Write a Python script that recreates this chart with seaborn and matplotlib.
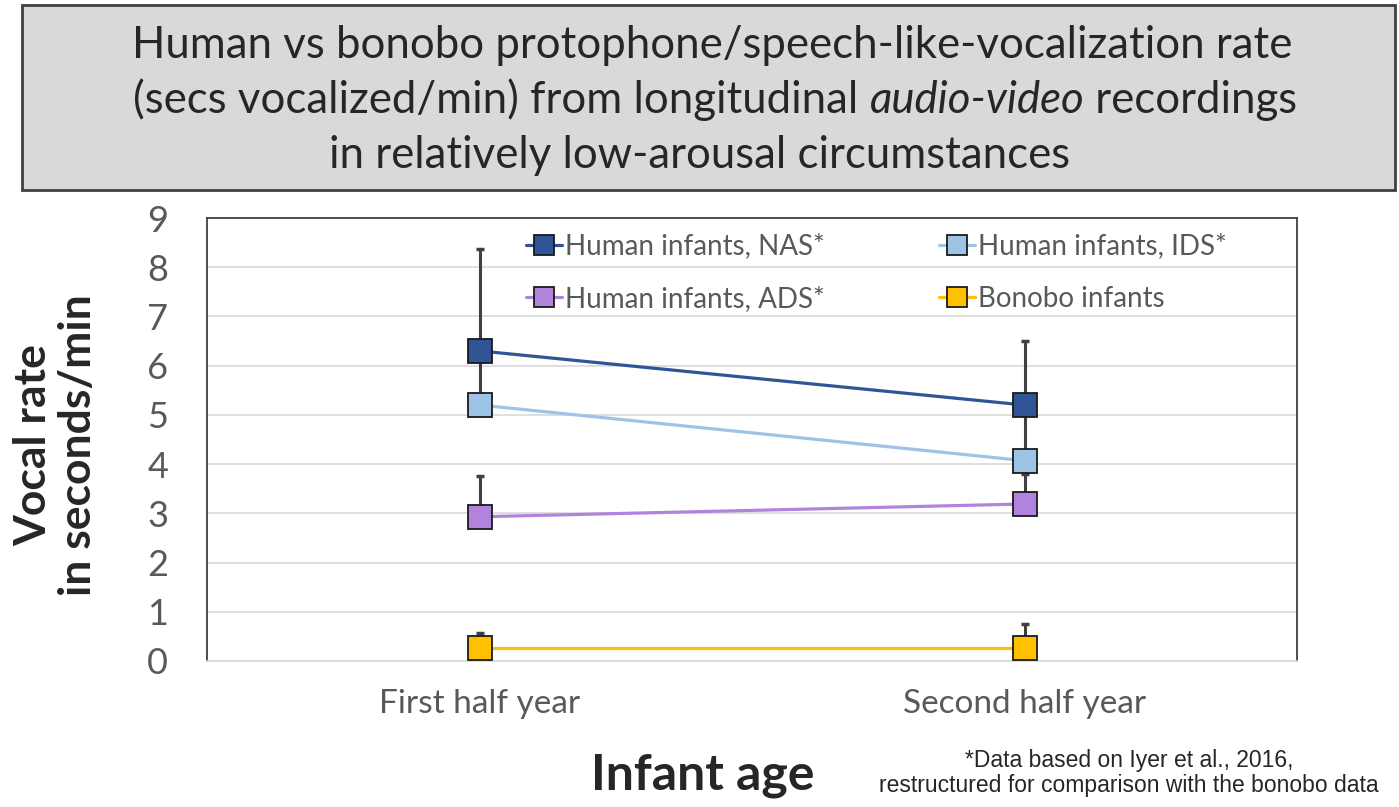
import matplotlib
matplotlib.use("Agg")
import matplotlib.pyplot as plt
import matplotlib.patches as mpatches
import seaborn as sns
import pandas as pd

# infant age groups
ages = ["First half year", "Second half year"]

# mean vocal rate (secs vocalized / min) per group
series = ["Human infants, NAS*", "Human infants, IDS*",
          "Human infants, ADS*", "Bonobo infants"]
nas = [6.30, 5.20]
ids = [5.20, 4.07]
ads = [2.93, 3.19]
bonobo = [0.26, 0.26]

# plus-only error bars
nas_err = [2.07, 1.30]
ids_err = [1.05, 1.00]
ads_err = [0.83, 0.61]
bonobo_err = [0.30, 0.50]

colors = ["#2F5597", "#9DC3E6", "#B283DD", "#FFC000"]

rows = []
for name, vals, errs in zip(series, [nas, ids, ads, bonobo],
                            [nas_err, ids_err, ads_err, bonobo_err]):
    for age, v, e in zip(ages, vals, errs):
        rows.append({"age": age, "series": name, "rate": v, "err": e})
df = pd.DataFrame(rows)

sns.set_theme(style="white")
plt.rcParams["font.family"] = ["Lato", "DejaVu Sans"]

fig = plt.figure(figsize=(13.99, 8.07), dpi=100)
ax = fig.add_axes([207 / 1399, 1 - 661 / 807, 1090 / 1399, 443 / 807])

# error bars first so the markers sit on top
for name in series:
    sub = df[df["series"] == name]
    xpos = [ages.index(a) for a in sub["age"]]
    ax.errorbar(xpos, sub["rate"], yerr=[[0] * len(sub), sub["err"]],
                fmt="none", ecolor="#404040", elinewidth=2.2,
                capsize=3, capthick=2.5, zorder=2)

sns.pointplot(data=df, x="age", y="rate", hue="series", hue_order=series,
              palette=colors, markers="s", linestyles="-", errorbar=None,
              order=ages, ax=ax, zorder=3, legend=True)

for ln in ax.lines:
    if ln.get_marker() == "s":
        ln.set_markeredgecolor("#1a1a1a")
        ln.set_markeredgewidth(1.3)
        ln.set_markersize(17)
        ln.set_linewidth(2.3)
        ln.set_zorder(3)

ax.set_xlim(-0.5, 1.5)
ax.set_ylim(0, 9)
ax.set_yticks(range(0, 10))
ax.yaxis.grid(True, color="#d9d9d9", linewidth=1.2)
ax.set_axisbelow(True)
ax.tick_params(axis="y", labelsize=26, labelcolor="#595959", pad=28, length=0)
ax.tick_params(axis="x", labelsize=24, labelcolor="#595959", pad=20, length=0)
for s in ["left", "right", "top"]:
    ax.spines[s].set_color("#404040")
    ax.spines[s].set_linewidth(1.3)
ax.spines["bottom"].set_color("#d9d9d9")
ax.set_xlabel("")
ax.set_ylabel("")

handles, labels = ax.get_legend_handles_labels()
for h in handles:
    h.set_markeredgecolor("#1a1a1a")
    h.set_markersize(14)
    h.set_linewidth(2.3)
order = [0, 2, 1, 3]
ax.legend([handles[i] for i in order], [labels[i] for i in order],
          ncol=2, frameon=False, fontsize=20, labelcolor="#595959",
          loc="upper left", bbox_to_anchor=(0.27, 1.022),
          handlelength=1.3, handletextpad=0.1, columnspacing=4.1,
          labelspacing=0.97)

# title box
fig.patches.append(mpatches.Rectangle((22 / 1399, 1 - 190 / 807),
                                      1373 / 1399, 185 / 807,
                                      transform=fig.transFigure,
                                      facecolor="#d9d9d9", edgecolor="#404040",
                                      linewidth=2, zorder=-1))
tsize = 31.5
fig.text(712 / 1399, 1 - 46 / 807,
         "Human vs bonobo protophone/speech-like-vocalization rate",
         ha="center", va="center", fontsize=tsize)
t2 = fig.text(133 / 1399, 1 - 100 / 807,
              "(secs vocalized/min) from longitudinal ",
              ha="left", va="center", fontsize=tsize)
a1 = ax.annotate("audio-video", xy=(1, 0), xycoords=t2, fontsize=tsize,
                 style="italic", ha="left", va="bottom",
                 annotation_clip=False)
ax.annotate(" recordings", xy=(1, 0), xycoords=a1, fontsize=tsize,
            ha="left", va="bottom", annotation_clip=False)
fig.text(700 / 1399, 1 - 155 / 807,
         "in relatively low-arousal circumstances",
         ha="center", va="center", fontsize=tsize)

# axis titles
fig.text(56 / 1399, 1 - 445 / 807, "Vocal rate\nin seconds/min",
         rotation=90, ha="center", va="center", fontsize=32,
         fontweight="bold", linespacing=1.15)
fig.text(703 / 1399, 1 - 775 / 807, "Infant age", ha="center", va="center",
         fontsize=36, fontweight="bold")
fig.text(1129 / 1399, 1 - 773 / 807,
         "*Data based on Iyer et al., 2016,\nrestructured for comparison with the bonobo data",
         ha="center", va="center", fontsize=16.5, linespacing=1.15,
         family=["Liberation Sans", "DejaVu Sans"])

fig.savefig("out.png", dpi=100)
